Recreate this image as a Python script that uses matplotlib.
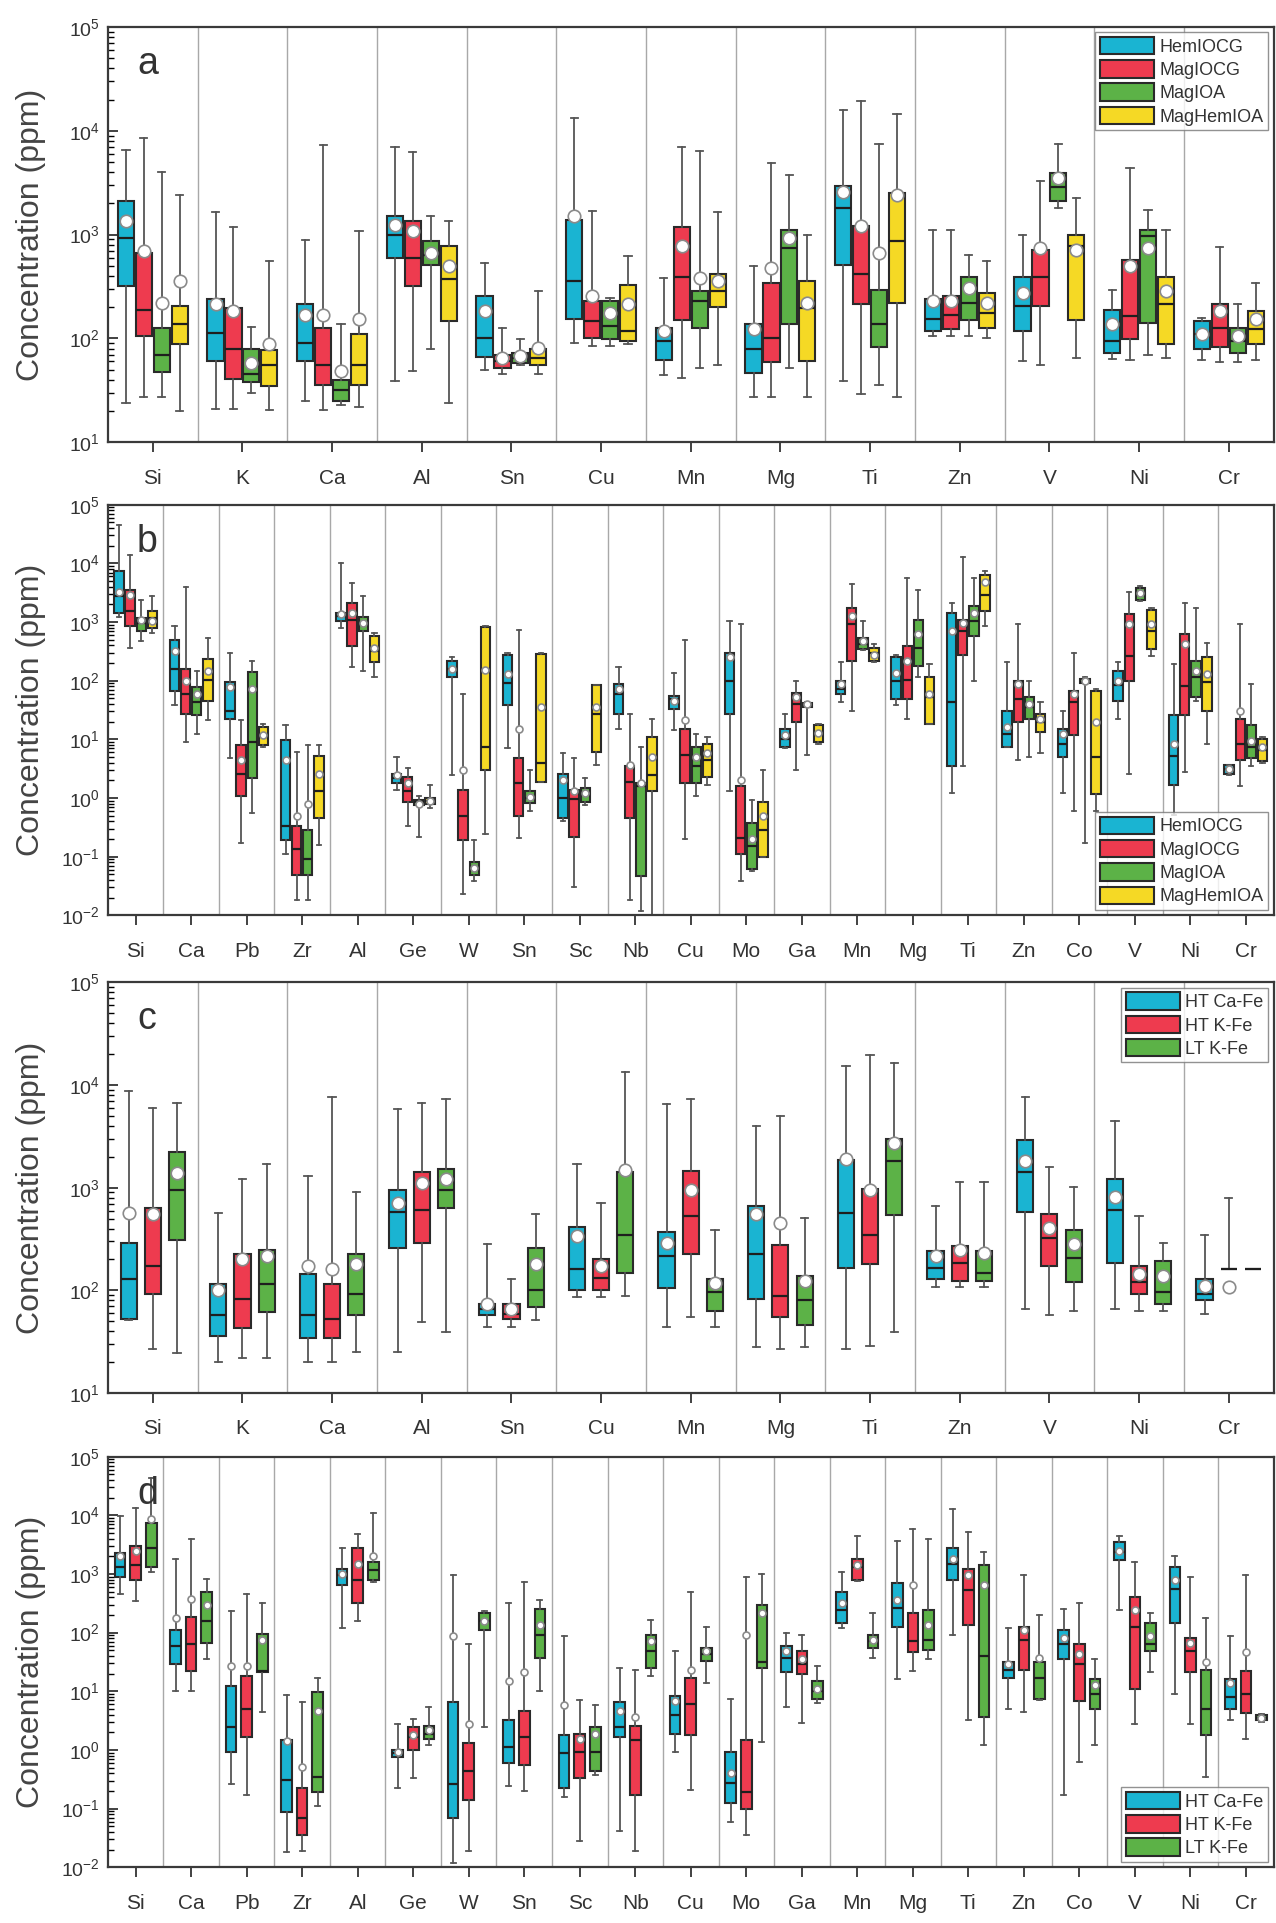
import numpy as np
import matplotlib
matplotlib.use("Agg")
import matplotlib.pyplot as plt
from matplotlib.patches import Patch
from matplotlib.ticker import FixedLocator, NullFormatter, LogFormatterSciNotation

plt.rcParams['font.family'] = ['Liberation Sans', 'DejaVu Sans']
plt.rcParams['mathtext.default'] = 'regular'

nan = float('nan')

# element order for the two kinds of panel
elem_short = ['Si', 'K', 'Ca', 'Al', 'Sn', 'Cu', 'Mn', 'Mg', 'Ti', 'Zn', 'V', 'Ni', 'Cr']
elem_long = ['Si', 'Ca', 'Pb', 'Zr', 'Al', 'Ge', 'W', 'Sn', 'Sc', 'Nb', 'Cu', 'Mo',
             'Ga', 'Mn', 'Mg', 'Ti', 'Zn', 'Co', 'V', 'Ni', 'Cr']

deposit_names = ['HemIOCG', 'MagIOCG', 'MagIOA', 'MagHemIOA']
alteration_names = ['HT Ca-Fe', 'HT K-Fe', 'LT K-Fe']

# each row: (whisker low, q1, median, q3, whisker high, mean) in ppm
# ---- panel a ----
a_hem = [(24, 320, 930, 2100, 6500, 1340), (21, 61, 114, 238, 1650, 213),
         (25, 60, 91, 213, 896, 170), (39, 600, 1000, 1500, 6900, 1250),
         (50, 66, 100, 256, 535, 183), (91, 153, 357, 1390, 13200, 1500),
         (44, 62, 94, 127, 384, 118), (27, 46, 79, 137, 497, 123),
         (39, 515, 1800, 2910, 15850, 2600), (106, 118, 153, 238, 1117, 229),
         (61, 118, 205, 390, 1000, 275), (63, 73, 94, 190, 290, 137),
         (62, 79, 110, 147, 158, 110)]
a_mag = [(27, 105, 190, 670, 8500, 700), (21, 41, 79, 198, 1175, 183),
         (20.5, 36, 56, 127, 7300, 170), (49, 320, 600, 1340, 6300, 1075),
         (45, 52, 60, 70, 127, 65), (85, 102, 147, 229, 1700, 256),
         (42, 149, 390, 1175, 6900, 773), (27, 59, 102, 344, 4875, 479),
         (29, 213, 413, 1200, 19300, 1200), (106, 123, 170, 256, 1117, 229),
         (56, 205, 390, 718, 3250, 745), (62, 98, 164, 575, 4370, 497),
         (59, 82, 127, 213, 755, 183)]
a_ioa = [(27, 47, 70, 127, 4050, 220), (30, 38, 45, 80, 130, 58),
         (23, 25, 32, 40, 137, 49), (79, 515, 640, 863, 1500, 670),
         (56, 58, 65, 72, 98, 68), (85, 98, 132, 229, 245, 177),
         (52, 127, 229, 286, 6400, 384), (52, 137, 745, 1100, 3770, 925),
         (36, 82, 137, 296, 7400, 667), (106, 149, 221, 390, 643, 307),
         (1800, 2090, 2900, 3900, 7400, 3500), (70, 142, 964, 1117, 1740, 745),
         (59, 73, 94, 127, 213, 105)]
a_hemioa = [(20, 88, 137, 205, 2420, 357), (20.5, 35, 55, 78, 555, 88),
            (22, 36, 55, 111, 1076, 153), (24, 147, 370, 773, 1340, 497),
            (45, 56, 65, 79, 285, 81), (88, 95, 118, 330, 620, 213),
            (56, 200, 286, 413, 1650, 357), (27, 61, 198, 357, 1000, 220),
            (27, 221, 863, 2510, 14400, 2420), (102, 127, 177, 275, 563, 220),
            (65, 149, 773, 1000, 2250, 718), (65, 88, 215, 390, 1117, 286),
            (62, 88, 123, 183, 344, 153)]

# ---- panel b ----
b_hem = [(1200, 1435, 2750, 7460, 44700, 3300), (38, 68, 158, 490, 855, 324),
         (4.8, 22.6, 31, 94, 300, 78), (0.11, 0.19, 0.33, 9.8, 17.4, 4.5),
         (800, 1040, 1250, 1440, 10000, 1350), (1.38, 1.8, 2.2, 2.6, 5, 2.5),
         (2.5, 114, 158, 218, 250, 158), (7, 38, 91, 280, 300, 130),
         (0.41, 0.46, 1.0, 2.6, 5.8, 2.0), (15, 27, 60, 87, 170, 72),
         (14.5, 33, 49, 56, 136, 46), (1.3, 27.5, 100, 300, 1040, 250),
         (7, 7.4, 10, 15, 27.5, 12), (43, 60, 72, 100, 205, 88),
         (38, 49, 100, 250, 280, 138), (1.2, 3.5, 43, 1450, 2140, 700),
         (7.4, 7.4, 12.6, 31, 205, 16), (1.2, 5, 8.5, 15, 31, 12.5),
         (22, 46, 83, 148, 205, 100), (0.52, 1.7, 5.2, 26, 192, 8.5),
         (2.5, 2.6, 3.1, 3.6, 3.7, 3.1)]
b_mag = [(367, 850, 1530, 3550, 13900, 2940), (9.2, 27.5, 60, 158, 3900, 100),
         (0.17, 1.07, 2.6, 7.9, 21, 4.5), (0.018, 0.048, 0.135, 0.33, 6.2, 0.5),
         (170, 390, 1100, 2140, 4600, 1440), (0.33, 0.87, 1.3, 2.3, 3.3, 1.8),
         (0.023, 0.19, 0.49, 1.38, 60, 3), (0.21, 0.49, 1.8, 4.8, 745, 15),
         (0.03, 0.22, 0.97, 1.38, 4.8, 1.3), (0.018, 0.46, 1.9, 3.5, 27, 3.6),
         (0.2, 1.8, 5.4, 15, 490, 21), (0.039, 0.11, 0.21, 1.58, 910, 2.0),
         (3.0, 20, 40, 63, 100, 53), (31, 218, 910, 1740, 4470, 1260),
         (22, 49, 102, 390, 5600, 218), (3.5, 280, 700, 1100, 12900, 975),
         (4.5, 20, 49, 100, 910, 88), (0.59, 11.8, 43, 68, 300, 60),
         (2.6, 100, 265, 1350, 3300, 910), (2.8, 26, 80, 615, 2140, 420),
         (1.58, 4.5, 8.5, 22, 910, 31)]
b_ioa = [(480, 700, 975, 1170, 2400, 1100), (12.6, 25.7, 43, 79, 148, 60),
         (0.56, 2.2, 8.9, 139, 218, 72), (0.018, 0.048, 0.09, 0.28, 8, 0.8),
         (148, 700, 910, 1200, 2740, 975), (0.22, 0.77, 0.85, 0.93, 1.07, 0.8),
         (0.039, 0.048, 0.06, 0.08, 0.19, 0.065), (0.59, 0.83, 1.0, 1.3, 3.0, 1.05),
         (0.77, 0.87, 1.2, 1.5, 2.2, 1.2), (0.012, 0.047, 1.6, 1.8, 7.5, 1.8),
         (1.07, 1.8, 3.5, 7.4, 12.6, 5), (0.057, 0.062, 0.15, 0.38, 0.93, 0.2),
         (5.4, 36, 38, 41, 43, 40), (330, 345, 420, 540, 1040, 470),
         (115, 178, 365, 1100, 3550, 615), (100, 580, 1040, 1860, 5600, 1440),
         (5, 22, 36, 53, 100, 40), (0.17, 90, 97, 105, 115, 100),
         (2250, 2400, 2940, 3800, 4100, 3150), (46, 53, 115, 218, 1740, 148),
         (3.5, 4.8, 7.4, 17.4, 87, 9.5)]
b_hemioa = [(660, 800, 1170, 1530, 2740, 1040), (21, 46, 102, 234, 540, 148),
            (7.4, 7.9, 11, 16, 18.6, 11.7), (0.16, 0.46, 1.3, 5.2, 8, 2.6),
            (115, 205, 324, 575, 660, 365), (0.68, 0.8, 0.9, 1.0, 1.7, 0.88),
            (0.24, 3.0, 7.5, 820, 855, 150), (1.9, 1.9, 3.9, 290, 300, 35),
            (3.6, 6.2, 27, 83, 85, 35), (0.008, 1.3, 2.5, 11, 22, 5),
            (1.7, 2.3, 4.5, 8.5, 11, 5.8), (0.098, 0.1, 0.29, 0.87, 3.0, 0.5),
            (8.5, 9, 12.6, 17.5, 18.6, 13), (205, 218, 300, 365, 420, 280),
            (18.6, 18.6, 52, 115, 196, 60), (855, 1520, 2940, 6300, 7300, 4900),
            (5.8, 13.5, 20, 27.5, 43, 22), (0.59, 1.15, 5, 68, 72, 20),
            (265, 345, 700, 1630, 1740, 910), (8.5, 31, 94, 250, 445, 130),
            (3.9, 4.2, 6.6, 10, 11, 7.4)]

# ---- panel c ----
c_htca = [(52, 53, 129, 290, 8700, 565), (20, 36, 57, 115, 565, 100),
          (20, 34, 57, 144, 1290, 173), (25, 260, 585, 955, 5900, 705),
          (44, 57, 66, 74, 280, 74), (86, 100, 160, 410, 1700, 340),
          (44, 105, 216, 370, 6600, 290), (28, 83, 224, 670, 3960, 550),
          (27, 166, 565, 1850, 15300, 1920), (107, 129, 166, 240, 670, 216),
          (66, 585, 1420, 2940, 7600, 1810), (66, 186, 610, 1230, 4500, 815),
          (59, 80, 92, 129, 350, 111)]
c_htk = [(27, 92, 173, 630, 6000, 550), (21.7, 42.6, 83, 224, 1230, 200),
         (20, 34, 53, 115, 7600, 160), (49, 290, 610, 1420, 6700, 1100),
         (44, 53, 59, 74, 129, 66), (86, 100, 133, 200, 705, 173),
         (55, 224, 525, 1440, 7300, 950), (27, 55, 89, 275, 5000, 455),
         (29, 180, 350, 980, 19700, 950), (107, 123, 186, 270, 1140, 250),
         (57, 173, 325, 550, 1590, 405), (63, 92, 120, 173, 525, 146),
         (161, 161, 161, 161, 790, 107)]
c_ltk = [(24.4, 313, 955, 2240, 6700, 1380), (21.7, 61, 115, 245, 1700, 216),
         (25, 57, 92, 224, 915, 180), (39, 630, 955, 1530, 7300, 1230),
         (51, 69, 100, 260, 550, 180), (89, 149, 350, 1420, 13500, 1480),
         (44, 63, 96, 129, 390, 117), (28, 46, 80, 138, 505, 124),
         (39, 545, 1810, 3000, 16500, 2700), (107, 123, 149, 240, 1140, 232),
         (63, 120, 208, 390, 1020, 280), (63, 74, 96, 195, 290, 138),
         (161, 161, 161, 161, 161, nan)]

# ---- panel d ----
d_htca = [(447, 890, 1320, 2300, 9700, 2050), (10, 29, 59, 112, 1800, 177),
          (0.26, 0.93, 2.5, 12.4, 230, 27), (0.018, 0.087, 0.31, 1.46, 8.5, 1.4),
          (120, 650, 950, 1230, 2800, 1000), (0.22, 0.77, 0.88, 1.0, 2.8, 0.93),
          (0.012, 0.069, 0.26, 6.5, 950, 87), (0.24, 0.59, 1.12, 3.2, 315, 15),
          (0.16, 0.22, 0.87, 1.77, 87, 5.8), (0.042, 1.66, 2.5, 6.5, 25, 4.7),
          (0.93, 1.9, 3.9, 8.3, 48, 6.9), (0.058, 0.125, 0.27, 0.93, 7.4, 0.4),
          (5.4, 21, 37, 59, 97, 48), (120, 145, 245, 500, 1100, 315),
          (16, 127, 260, 690, 3700, 355), (91, 780, 1480, 2800, 12600, 1800),
          (5, 17, 23.5, 32, 120, 29), (0.17, 35, 63, 112, 257, 81),
          (245, 1700, 2340, 3450, 4500, 2500), (9, 145, 560, 1330, 2050, 780),
          (3.2, 5, 7.9, 16, 87, 14)]
d_htk = [(340, 780, 1400, 3030, 13500, 2500), (10, 22, 63, 187, 3900, 380),
         (0.17, 1.66, 5, 18, 455, 27), (0.019, 0.036, 0.07, 0.22, 6.5, 0.52),
         (155, 315, 780, 2800, 4800, 1480), (0.33, 1.0, 1.65, 2.5, 3.4, 1.8),
         (0.019, 0.14, 0.43, 1.3, 63, 2.8), (0.2, 0.55, 1.66, 4.7, 730, 21),
         (0.028, 0.33, 0.93, 1.9, 7, 1.55), (0.019, 0.17, 1.46, 2.6, 23, 3.6),
         (0.21, 1.78, 6, 17, 500, 23), (0.036, 0.098, 0.19, 1.47, 890, 91),
         (2.9, 19.5, 29, 48, 91, 35), (750, 780, 1320, 1820, 4500, 1400),
         (22.5, 46, 71, 215, 5800, 650), (3.2, 135, 525, 1230, 5200, 950),
         (4.4, 23, 76, 127, 950, 112), (0.63, 6.9, 29, 63, 315, 43),
         (2.8, 11, 127, 410, 1580, 245), (2.8, 21, 48, 81, 890, 66),
         (1.55, 4.2, 9, 22.5, 950, 46)]
d_ltk = [(1080, 1320, 2820, 7300, 43000, 8500), (35, 66, 155, 500, 830, 295),
         (4.5, 21, 22, 96, 320, 76), (0.11, 0.19, 0.35, 9.6, 17, 4.7),
         (730, 780, 1150, 1580, 11000, 2050), (1.2, 1.56, 1.9, 2.6, 5.4, 2.2),
         (2.5, 112, 155, 215, 230, 160), (10, 37, 92, 255, 355, 134),
         (0.38, 0.43, 0.93, 2.5, 5.8, 1.9), (18, 25, 48, 92, 166, 71),
         (14, 33, 43, 55, 126, 48), (1.38, 25, 31, 295, 1000, 215),
         (6.4, 7.4, 10.3, 15, 27, 11), (37, 55, 71, 91, 215, 76),
         (35, 51, 76, 245, 3900, 134), (1.2, 3.6, 40, 1400, 2340, 650),
         (7.0, 7.4, 17, 32, 200, 37), (1.2, 5, 9, 16, 35, 13),
         (21, 48, 63, 145, 215, 87), (0.35, 1.78, 5, 23.5, 178, 32),
         (3.0, 3.2, 3.5, 3.9, 4.1, 3.5)]

COLORS = ['#1ab4d2', '#ee3b4f', '#5cb247', '#f5d925']
EDGE = '#2a2a2a'


def to_stats(rows):
    return [dict(whislo=r[0], q1=r[1], med=r[2], q3=r[3], whishi=r[4], mean=r[5])
            for r in rows]


def draw_panel(ax, elements, groups, names, offsets, width, decades, letter,
               legend_loc, msize):
    x = np.arange(1, len(elements) + 1)
    for k in range(1, len(elements)):
        ax.axvline(k + 0.5, color='#a8a8a8', lw=1.0, zorder=0)
    for rows, off, col in zip(groups, offsets, COLORS):
        ax.bxp(to_stats(rows), positions=x + off, widths=width,
               capwidths=width * 0.45, patch_artist=True, showmeans=True,
               showfliers=False, manage_ticks=False,
               boxprops=dict(facecolor=col, edgecolor=EDGE, linewidth=1.5),
               medianprops=dict(color='#1e1e1e', linewidth=1.6),
               whiskerprops=dict(color='#555555', linewidth=1.3),
               capprops=dict(color='#555555', linewidth=1.3),
               meanprops=dict(marker='o', markerfacecolor='white',
                              markeredgecolor='#8a8a8a', markeredgewidth=1.2,
                              markersize=msize))
    lo, hi = decades
    ax.set_yscale('log')
    ax.set_ylim(10.0 ** lo, 10.0 ** hi)
    ax.set_xlim(0.5, len(elements) + 0.5)
    ax.set_xticks(x)
    ax.set_xticklabels(elements)
    # only decades inside the axis range get a tick
    ax.yaxis.set_major_locator(FixedLocator([10.0 ** k for k in range(lo, hi + 1)]))
    ax.yaxis.set_major_formatter(LogFormatterSciNotation())
    ax.yaxis.set_minor_locator(FixedLocator([m * 10.0 ** k for k in range(lo, hi)
                                             for m in range(2, 10)]))
    ax.yaxis.set_minor_formatter(NullFormatter())
    ax.tick_params(axis='x', direction='out', length=7, width=1.3, pad=12,
                   labelsize=15, colors='#333333')
    ax.tick_params(axis='y', which='major', direction='in', length=7, width=1.3,
                   labelsize=14, colors='#333333', pad=6)
    ax.tick_params(axis='y', which='minor', direction='in', length=4, width=1.0)
    for s in ax.spines.values():
        s.set_linewidth(1.6)
        s.set_color('#3a3a3a')
    ax.text(0.025, 0.91, letter, transform=ax.transAxes, fontsize=27,
            color='#333333', ha='left', va='center')
    handles = [Patch(facecolor=c, edgecolor=EDGE, linewidth=1.5)
               for c in COLORS[:len(names)]]
    leg = ax.legend(handles, names, loc=legend_loc, fontsize=13, frameon=True,
                    fancybox=False, handlelength=3.0, handleheight=1.1,
                    handletextpad=0.3, labelspacing=0.25, borderpad=0.25,
                    borderaxespad=0.3)
    leg.get_frame().set_edgecolor('#777777')
    leg.get_frame().set_linewidth(1.0)
    for t in leg.get_texts():
        t.set_color('#333333')


fig = plt.figure(figsize=(12.76, 19.23), dpi=100)
left, width = 0.0846, 0.9135
bottoms = [0.770, 0.524, 0.2756, 0.029]
heights = [0.216, 0.2135, 0.2135, 0.2135]
axes = [fig.add_axes([left, b, width, h]) for b, h in zip(bottoms, heights)]

off4 = [-0.3, -0.1, 0.1, 0.3]
off3c = [-0.27, 0.0, 0.27]
off3d = [-0.28, 0.0, 0.28]

draw_panel(axes[0], elem_short, [a_hem, a_mag, a_ioa, a_hemioa], deposit_names,
           off4, 0.18, (1, 5), 'a', 'upper right', 9)
draw_panel(axes[1], elem_long, [b_hem, b_mag, b_ioa, b_hemioa], deposit_names,
           off4, 0.17, (-2, 5), 'b', 'lower right', 5)
draw_panel(axes[2], elem_short, [c_htca, c_htk, c_ltk], alteration_names,
           off3c, 0.18, (1, 5), 'c', 'upper right', 9)
draw_panel(axes[3], elem_long, [d_htca, d_htk, d_ltk], alteration_names,
           off3d, 0.19, (-2, 5), 'd', 'lower right', 5)

for ax, b, h in zip(axes, bottoms, heights):
    fig.text(0.024, b + h / 2, 'Concentration (ppm)', rotation=90, fontsize=23,
             color='#444444', ha='center', va='center')

fig.savefig('out.png', dpi=100)
